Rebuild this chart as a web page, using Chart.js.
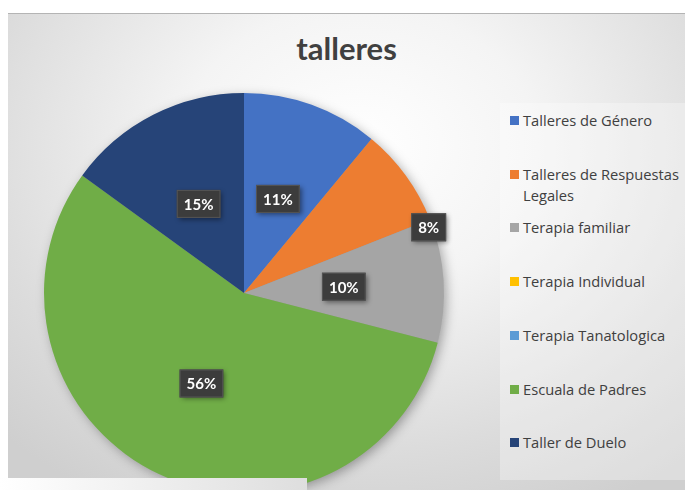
<!DOCTYPE html>
<html>
<head>
<meta charset="utf-8">
<script src="https://cdn.jsdelivr.net/npm/chart.js@4.4.1/dist/chart.umd.min.js"></script>
<style>
    html, body { margin: 0; padding: 0; }
    body { width: 685px; height: 490px; overflow: hidden; position: relative; background: #fff; font-family: Lato, "Open Sans", sans-serif; }
    .frame { position: absolute; left: 8px; top: 13px; width: 677px; height: 477px; border-top: 1px solid #b4b4b4; box-sizing: border-box;
        background: radial-gradient(ellipse 75% 85% at 52% 28%, #ffffff 0%, #f4f4f4 35%, #dcdcdc 75%, #cfcfcf 100%); }
    .peek { position: absolute; left: 336px; top: -30px; font-weight: bold; font-size: 26px; color: #595959; }
    .title { position: absolute; left: 8px; width: 677px; top: 29px; text-align: center; font-weight: bold; font-size: 31px; color: #404040; }
    .legend { position: absolute; left: 500px; top: 103px; width: 185px; height: 377px; background: rgba(255,255,255,0.3); }
    .legend-item { position: absolute; left: 10px; width: 175px; font-family: "Open Sans", sans-serif; font-size: 14.7px; line-height: 21px; color: #404040; white-space: nowrap; }
    .legend-item .box { position: absolute; left: 0; top: 6px; width: 9px; height: 9px; }
    .legend-item .txt { display: block; margin-left: 13px; }
    .chart-wrap { position: absolute; left: 8px; top: 13px; width: 677px; height: 490px; }
    .strip { position: absolute; left: 0; top: 478px; width: 307px; height: 12px; background: linear-gradient(to right, #ffffff, #dedede); }
</style>
</head>
<body>
<div class="frame"></div>
<div class="peek">g</div>
<div class="title">talleres</div>
<div class="legend" id="legend"></div>
<div class="chart-wrap"><canvas id="pieChart"></canvas></div>
<div class="strip"></div>
<script>
const categories = ['Talleres de Género', 'Talleres de Respuestas Legales', 'Terapia familiar', 'Terapia Individual', 'Terapia Tanatologica', 'Escuala de Padres', 'Taller de Duelo'];
const percentages = [11, 8, 10, 0, 0, 56, 15];
const colors = ['#4472C4', '#ED7D31', '#A5A5A5', '#FFC000', '#5B9BD5', '#70AD47', '#264478'];

// html legend built from the same arrays
const legend = document.querySelector('#legend');
categories.forEach((name, i) => {
    const item = document.createElement('div');
    item.className = 'legend-item';
    item.style.top = (7 + i * 53.7) + 'px';
    const wrapName = name == 'Talleres de Respuestas Legales' ? 'Talleres de Respuestas<br>Legales' : name;
    item.innerHTML = `<span class="box" style="background:${colors[i]}"></span><span class="txt">${wrapName}</span>`;
    legend.appendChild(item);
});

// soft shadow under the pie, like excel
const pieShadow = {
    id: 'pieShadow',
    beforeDatasetsDraw(chart) {
        const arc = chart.getDatasetMeta(0).data[0];
        const ctx = chart.ctx;
        ctx.save();
        ctx.shadowColor = 'rgba(0,0,0,0.35)';
        ctx.shadowBlur = 12;
        ctx.shadowOffsetX = 3;
        ctx.shadowOffsetY = 3;
        ctx.fillStyle = '#999';
        ctx.beginPath();
        ctx.arc(arc.x, arc.y, arc.outerRadius - 1, 0, Math.PI * 2);
        ctx.fill();
        ctx.restore();
    }
};

// dark boxed percentage labels
const boxLabels = {
    id: 'boxLabels',
    afterDatasetsDraw(chart) {
        const ctx = chart.ctx;
        const ds = chart.data.datasets[0].data;
        const total = ds.reduce((a, b) => a + b, 0);
        chart.getDatasetMeta(0).data.forEach((arc, i) => {
            const v = ds[i];
            if (!v) return;
            const pct = v / total;
            let a = (arc.startAngle + arc.endAngle) / 2;
            let r = arc.outerRadius * 0.5;
            if (pct < 0.09) { // small slice: excel pushes it out to the rim
                a = arc.endAngle + 0.035;
                r = arc.outerRadius * 0.98;
            }
            const x = arc.x + r * Math.cos(a);
            const y = arc.y + r * Math.sin(a);
            const text = Math.round(pct * 100) + '%';
            ctx.save();
            ctx.font = 'bold 15px Lato, "Open Sans", sans-serif';
            const w = ctx.measureText(text).width + 14;
            const h = 28;
            ctx.shadowColor = 'rgba(0,0,0,0.45)';
            ctx.shadowBlur = 5;
            ctx.shadowOffsetX = 2;
            ctx.shadowOffsetY = 2;
            ctx.fillStyle = '#3c3c3c';
            ctx.fillRect(x - w / 2, y - h / 2, w, h);
            ctx.shadowColor = 'transparent';
            ctx.strokeStyle = '#555';
            ctx.lineWidth = 1;
            ctx.strokeRect(x - w / 2 + 0.5, y - h / 2 + 0.5, w - 1, h - 1);
            ctx.fillStyle = '#ffffff';
            ctx.textAlign = 'center';
            ctx.textBaseline = 'middle';
            ctx.fillText(text, x, y + 1);
            ctx.restore();
        });
    }
};

new Chart('pieChart', {
    type: 'pie',
    data: {
        labels: categories,
        datasets: [{
            data: percentages,
            backgroundColor: colors,
            borderWidth: 0
        }]
    },
    options: {
        responsive: true,
        maintainAspectRatio: false,
        animation: false,
        layout: {
            padding: { left: 36, right: 241, top: 80, bottom: 10 }
        },
        plugins: {
            legend: { display: false },
            tooltip: { enabled: false }
        }
    },
    plugins: [pieShadow, boxLabels]
});
</script>
</body>
</html>
